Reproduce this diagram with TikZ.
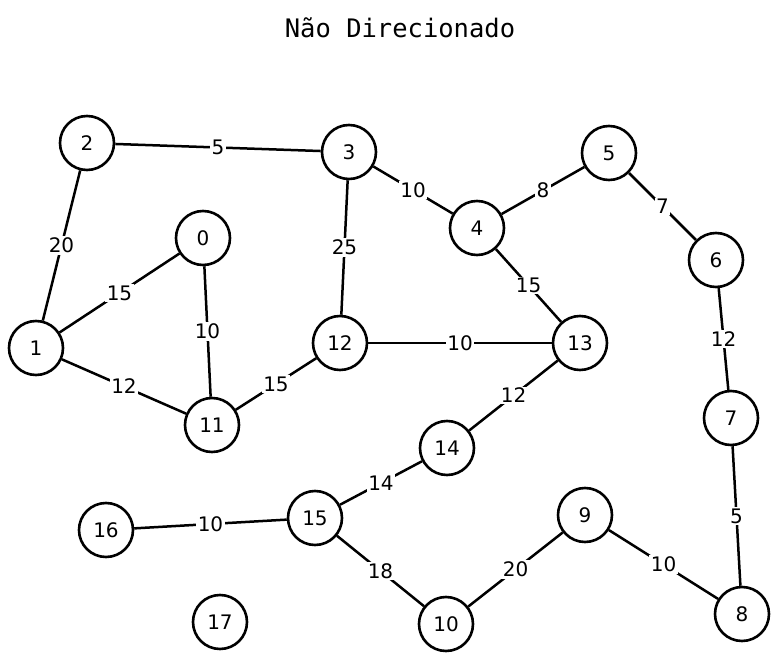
\documentclass[tikz,border=0pt]{standalone}
\usepackage{fontspec}
\setmainfont{DejaVu Sans}
\newfontfamily\titlefont{DejaVu Sans Mono}
\begin{document}
\begin{tikzpicture}[x=1pt,y=-1pt,
  vtx/.style={circle,draw=black,line width=2.6pt,minimum size=54pt,inner sep=0pt,font=\fontsize{20}{22}\selectfont,fill=white},
  edge/.style={line width=2.5pt,black},
  wlab/.style={fill=white,inner sep=1.5pt,font=\fontsize{20}{22}\selectfont}]
\useasboundingbox (0,0) rectangle (779,660);
\node[font=\titlefont\fontsize{25.5}{28}\selectfont] (title) at (400,28) {Não Direcionado};
\node[vtx] (n0) at (203,238) {0};
\node[vtx] (n1) at (36,348) {1};
\node[vtx] (n2) at (87,143) {2};
\node[vtx] (n3) at (349,152) {3};
\node[vtx] (n4) at (477,228) {4};
\node[vtx] (n5) at (609,153) {5};
\node[vtx] (n6) at (716,260) {6};
\node[vtx] (n7) at (731,418) {7};
\node[vtx] (n8) at (742,614) {8};
\node[vtx] (n9) at (585,515) {9};
\node[vtx] (n10) at (446,624) {10};
\node[vtx] (n11) at (212,425) {11};
\node[vtx] (n12) at (340,343) {12};
\node[vtx] (n13) at (580,343) {13};
\node[vtx] (n14) at (447,448) {14};
\node[vtx] (n15) at (315,518) {15};
\node[vtx] (n16) at (106,530) {16};
\node[vtx] (n17) at (220,622) {17};
\foreach \a/\b/\w in {n2/n3/5, n2/n1/20, n1/n0/15, n0/n11/10, n1/n11/12, n11/n12/15,
  n3/n12/25, n3/n4/10, n4/n5/8, n5/n6/7, n4/n13/15, n12/n13/10, n6/n7/12,
  n13/n14/12, n14/n15/14, n16/n15/10, n15/n10/18, n10/n9/20, n9/n8/10, n7/n8/5}
  {\draw[edge] (\a) -- node[wlab] {\w} (\b);}
\end{tikzpicture}
\end{document}
